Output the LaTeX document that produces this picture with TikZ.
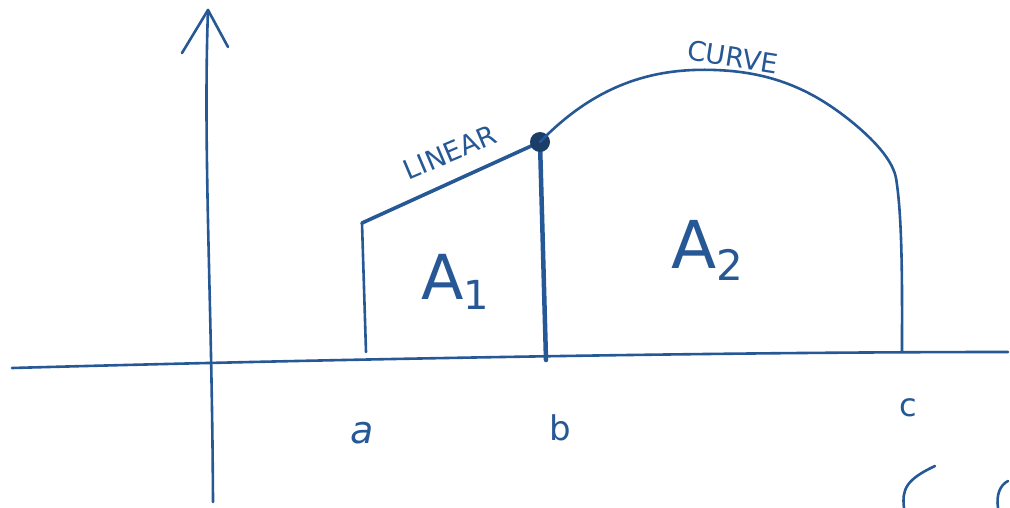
\documentclass[tikz,border=0pt]{standalone}
\usepackage{fontspec}
\setmainfont{DejaVu Sans}
\definecolor{ink}{RGB}{38,88,150}
\begin{document}
\begin{tikzpicture}[x=1pt,y=-1pt,
  pen/.style={draw=ink,line width=2.6pt,line cap=round,line join=round},
  thick pen/.style={draw=ink,line width=4.5pt,line cap=round},
  lbl/.style={text=ink,inner sep=0pt}]
\useasboundingbox (0,0) rectangle (1010,508);
% axes
\coordinate (ybot) at (213,502);
\coordinate (ytop) at (208,10);
\coordinate (yl) at (182,53);
\coordinate (yr) at (228,47);
\draw[pen] (ybot) .. controls (212,300) and (203,150) .. (ytop);
\draw[pen] (yl) -- (ytop) -- (yr);
\coordinate (xl) at (12,368);
\coordinate (xr) at (1008,352);
\draw[pen] (xl) .. controls (300,360) and (700,352) .. (xr);
% points
\coordinate (pa) at (362,223);
\coordinate (pab) at (366,352);
\coordinate (pb) at (540,142);
\coordinate (pbb) at (546,360);
\coordinate (pc) at (896,178);
\coordinate (pcb) at (902,352);
% a boundary
\draw[pen] (pab) -- (pa);
% linear segment
\draw[pen,line width=3.6pt] (pa) -- (pb);
% b boundary
\draw[thick pen] (pb) -- (pbb);
\node[circle,fill=ink!70!black,minimum size=20pt,inner sep=0pt] (dot) at (pb) {};
% curve
\draw[pen] (pb) .. controls (600,80) and (660,68) .. (715,70)
  .. controls (775,72) and (815,92) .. (852,122)
  .. controls (880,145) and (893,163) .. (pc);
\draw[pen] (pc) .. controls (903,220) and (902,300) .. (pcb);
% labels
\node[lbl,rotate=23,font=\fontsize{27}{27}\selectfont] (lin) at (450,152) {LINEAR};
\node[lbl,rotate=-9,font=\fontsize{27}{27}\selectfont] (cur) at (733,57) {CURVE};
\node[lbl,font=\fontsize{62}{62}\selectfont] (a1) at (455,282) {A\raisebox{-10pt}{\fontsize{40}{40}\selectfont 1}};
\node[lbl,font=\fontsize{66}{66}\selectfont] (a2) at (707,250) {A\raisebox{-12pt}{\fontsize{42}{42}\selectfont 2}};
\node[lbl,font=\fontsize{38}{38}\selectfont\itshape] (la) at (362,433) {a};
\node[lbl,font=\fontsize{34}{34}\selectfont] (lb) at (560,428) {b};
\node[lbl,font=\fontsize{32}{32}\selectfont] (lc) at (908,408) {c};
% partial marks at bottom right
\draw[pen] (904,508) .. controls (902,490) and (905,480) .. (935,466);
\draw[pen] (998,508) .. controls (996,495) and (1000,485) .. (1008,481);
\end{tikzpicture}
\end{document}
